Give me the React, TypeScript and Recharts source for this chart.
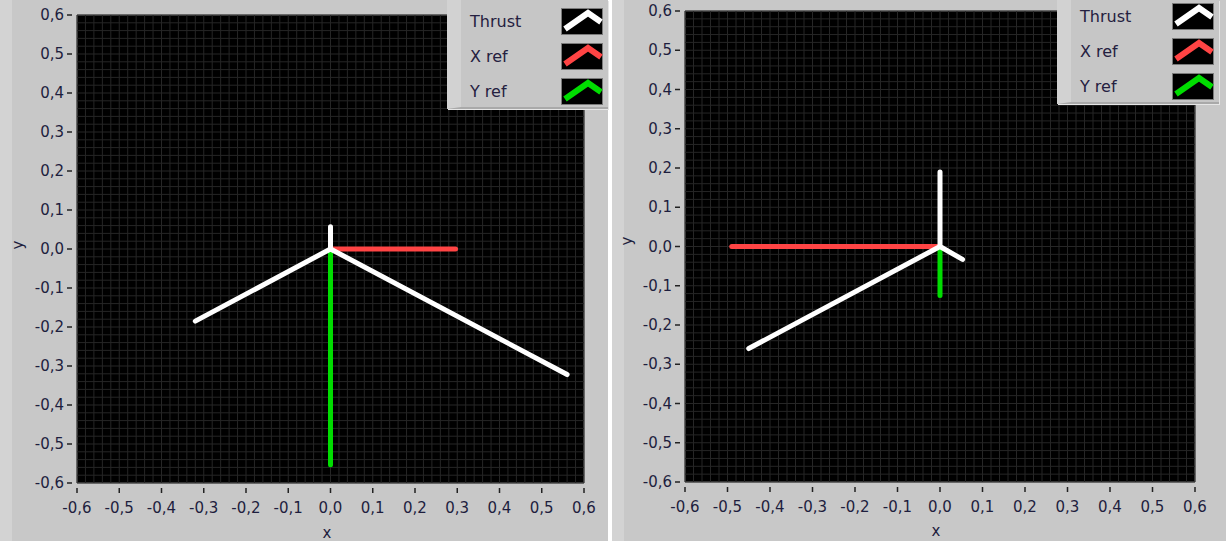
import React from "react";
import { LineChart, Line, XAxis, YAxis, ReferenceLine, ReferenceArea } from "recharts";

// axis ticks (major) shared by both graphs
const axisTicks = [-0.6, -0.5, -0.4, -0.3, -0.2, -0.1, 0, 0.1, 0.2, 0.3, 0.4, 0.5, 0.6];

// left graph
const leftThrust = [
  { x: -0.32, y: -0.185 },
  { x: 0, y: 0 },
  { x: 0, y: 0.057 },
  { x: 0, y: 0 },
  { x: 0.56, y: -0.322 },
];
const leftXRef = [
  { x: 0, y: 0 },
  { x: 0.296, y: 0 },
];
const leftYRef = [
  { x: 0, y: 0 },
  { x: 0, y: -0.553 },
];

// right graph
const rightThrust = [
  { x: -0.45, y: -0.26 },
  { x: 0, y: 0 },
  { x: 0, y: 0.19 },
  { x: 0, y: 0 },
  { x: 0.053, y: -0.033 },
];
const rightXRef = [
  { x: 0, y: 0 },
  { x: -0.49, y: 0 },
];
const rightYRef = [
  { x: 0, y: 0 },
  { x: 0, y: -0.125 },
];

const legendNames = ["Thrust", "X ref", "Y ref"];
const colors = ["#ffffff", "#ff4444", "#00dd00"];

const FONT = "'DejaVu Sans', sans-serif";
const LABEL_COLOR = "#1e1e3e";

// minor grid every 0.02
const gridVals: number[] = [];
for (let i = -30; i <= 30; i++) gridVals.push(i / 50);

const fmt = (v: number) => (Math.abs(v) < 1e-9 ? "0,0" : v.toFixed(1).replace(".", ","));

const YTick = (props: any) => {
  const { x, y, payload } = props;
  return (
    <g>
      <line x1={x - 10} x2={x - 5} y1={y} y2={y} stroke="#222" strokeWidth={1.5} />
      <text x={x - 13} y={y + 5} textAnchor="end" fontFamily={FONT} fontSize={15} fill={LABEL_COLOR}>
        {fmt(payload.value)}
      </text>
    </g>
  );
};

const XTick = (props: any) => {
  const { x, y, payload } = props;
  return (
    <g>
      <line x1={x} x2={x} y1={y + 5} y2={y + 10} stroke="#222" strokeWidth={1.5} />
      <text x={x} y={y + 30} textAnchor="middle" fontFamily={FONT} fontSize={15} fill={LABEL_COLOR}>
        {fmt(payload.value)}
      </text>
    </g>
  );
};

interface GraphProps {
  left: number;
  width: number;
  margin: { top: number; right: number; bottom: number; left: number };
  thrust: { x: number; y: number }[];
  xRef: { x: number; y: number }[];
  yRef: { x: number; y: number }[];
  legend: { left: number; width: number; height: number; rowTop: number };
  yTitle: { x: number; y: number };
  xTitle: { x: number; y: number };
}

function Swatch({ color }: { color: string }) {
  return (
    <svg width={42} height={27} style={{ display: "block" }}>
      <rect x={0.5} y={0.5} width={41} height={26} fill="#000" stroke="#7a7a7a" />
      <polyline points="4,21 27,5 40,14" fill="none" stroke={color} strokeWidth={6} strokeLinejoin="miter" />
    </svg>
  );
}

function Graph(p: GraphProps) {
  return (
    <div
      style={{
        position: "absolute",
        left: p.left,
        top: 0,
        width: p.width,
        height: 541,
        background: "#c8c8c8",
        borderLeft: "12px solid #d3d3d3",
        boxSizing: "border-box",
      }}
    >
      <div style={{ position: "absolute", left: -12, top: 0 }}>
        <LineChart width={p.width} height={541} margin={p.margin}>
          <XAxis
            type="number"
            dataKey="x"
            domain={[-0.6, 0.6]}
            ticks={axisTicks}
            allowDataOverflow
            axisLine={false}
            tickLine={false}
            tickSize={0}
            tickMargin={0}
            height={40}
            tick={<XTick />}
            interval={0}
          />
          <YAxis
            type="number"
            dataKey="y"
            domain={[-0.6, 0.6]}
            ticks={axisTicks}
            allowDataOverflow
            axisLine={false}
            tickLine={false}
            tickSize={0}
            tickMargin={0}
            width={60}
            tick={<YTick />}
            interval={0}
          />
          <ReferenceArea x1={-0.6} x2={0.6} y1={-0.6} y2={0.6} fill="#000000" fillOpacity={1} stroke="#8c8c8c" strokeWidth={1} />
          {gridVals.map((v) => (
            <ReferenceLine key={`gx${v}`} x={v} stroke="#262626" strokeWidth={1} />
          ))}
          {gridVals.map((v) => (
            <ReferenceLine key={`gy${v}`} y={v} stroke="#262626" strokeWidth={1} />
          ))}
          <Line data={p.yRef} dataKey="y" stroke={colors[2]} strokeWidth={5} dot={false} isAnimationActive={false} strokeLinecap="round" type="linear" />
          <Line data={p.xRef} dataKey="y" stroke={colors[1]} strokeWidth={5} dot={false} isAnimationActive={false} strokeLinecap="round" type="linear" />
          <Line data={p.thrust} dataKey="y" stroke={colors[0]} strokeWidth={5} dot={false} isAnimationActive={false} strokeLinecap="round" strokeLinejoin="round" type="linear" />
        </LineChart>
      </div>

      <div
        style={{
          position: "absolute",
          left: p.yTitle.x - 12,
          top: p.yTitle.y,
          transform: "translate(-50%, -50%) rotate(-90deg)",
          fontFamily: FONT,
          fontSize: 15,
          color: LABEL_COLOR,
        }}
      >
        y
      </div>
      <div
        style={{
          position: "absolute",
          left: p.xTitle.x - 12,
          top: p.xTitle.y,
          transform: "translate(-50%, -50%)",
          fontFamily: FONT,
          fontSize: 15,
          color: LABEL_COLOR,
        }}
      >
        x
      </div>

      <div
        style={{
          position: "absolute",
          left: p.legend.left - 12,
          top: 0,
          width: p.legend.width,
          height: p.legend.height,
          background: "#c6c6c6",
          borderLeft: "14px solid #d2d2d2",
          borderBottom: "2px solid #a9a9a9",
          boxSizing: "border-box",
          boxShadow: "1px 1px 0 #e6e6e6",
        }}
      >
        {legendNames.map((name, i) => (
          <div
            key={name}
            style={{
              position: "absolute",
              left: 9,
              top: p.legend.rowTop + i * 35,
              width: p.legend.width - 28,
              height: 27,
              display: "flex",
              alignItems: "center",
              justifyContent: "space-between",
            }}
          >
            <span style={{ fontFamily: FONT, fontSize: 16, color: "#242040" }}>{name}</span>
            <Swatch color={colors[i]} />
          </div>
        ))}
      </div>
    </div>
  );
}

export default function App() {
  return (
    <div style={{ position: "absolute", left: 0, top: 0, width: 1226, height: 541, background: "#ffffff", overflow: "hidden" }}>
      <Graph
        left={0}
        width={608}
        margin={{ top: 15, right: 24, bottom: 18, left: 17 }}
        thrust={leftThrust}
        xRef={leftXRef}
        yRef={leftYRef}
        legend={{ left: 447, width: 161, height: 109, rowTop: 8 }}
        yTitle={{ x: 18, y: 245 }}
        xTitle={{ x: 327, y: 533 }}
      />
      <Graph
        left={612}
        width={614}
        margin={{ top: 11, right: 31, bottom: 19, left: 13 }}
        thrust={rightThrust}
        xRef={rightXRef}
        yRef={rightYRef}
        legend={{ left: 445, width: 162, height: 104, rowTop: 3 }}
        yTitle={{ x: 15, y: 241 }}
        xTitle={{ x: 324, y: 531 }}
      />
    </div>
  );
}
